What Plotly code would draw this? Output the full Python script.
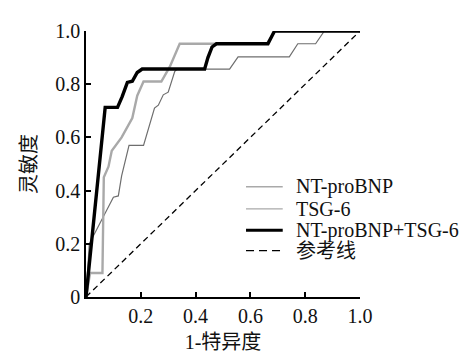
import plotly.graph_objects as go

# ---- data ----
nt_fpr = [0, 0.015, 0.06, 0.065, 0.082, 0.094, 0.13, 0.155, 0.169, 0.187, 0.21, 0.275, 0.306, 0.342, 0.66, 0.69, 1.0]
nt_tpr = [0, 0.09, 0.09, 0.45, 0.49, 0.55, 0.60, 0.648, 0.673, 0.757, 0.81, 0.81, 0.866, 0.952, 0.952, 1.0, 1.0]

tsg_fpr = [0, 0.012, 0.10, 0.118, 0.13, 0.157, 0.21, 0.225, 0.24, 0.25, 0.264, 0.282, 0.30, 0.311, 0.324, 0.333,
           0.524, 0.555, 0.742, 0.773, 0.838, 0.87, 1.0]
tsg_tpr = [0, 0.20, 0.375, 0.38, 0.455, 0.57, 0.57, 0.62, 0.673, 0.71, 0.721, 0.76, 0.77, 0.807, 0.848, 0.857,
           0.857, 0.903, 0.903, 0.952, 0.952, 1.0, 1.0]

comb_fpr = [0, 0.07, 0.115, 0.132, 0.151, 0.169, 0.187, 0.205, 0.433, 0.445, 0.46, 0.476, 0.664, 0.688, 1.0]
comb_tpr = [0, 0.713, 0.713, 0.753, 0.807, 0.811, 0.844, 0.857, 0.857, 0.90, 0.94, 0.952, 0.952, 1.0, 1.0]

ref_x = [0, 1]
ref_y = [0, 1]

names = ["NT-proBNP", "TSG-6", "NT-proBNP+TSG-6", "参考线"]
x_ticks = [0.2, 0.4, 0.6, 0.8, 1.0]
x_ticktext = ["0.2", "0.4", "0.6", "0.8", "1.0"]
y_ticks = [0, 0.2, 0.4, 0.6, 0.8, 1.0]
y_ticktext = ["0", "0.2", "0.4", "0.6", "0.8", "1.0"]

# ---- styles ----
C_NT, W_NT = "#a9a9a9", 2.4
C_TSG, W_TSG = "#6e6e6e", 1.2
C_COMB, W_COMB = "#000000", 3.4
C_REF, W_REF = "#000000", 1.3
DASH = "6px,4px"
FONT = "'Liberation Serif', 'Times New Roman', 'Noto Sans CJK SC', serif"

fig = go.Figure()
fig.add_trace(go.Scatter(x=ref_x, y=ref_y, mode="lines", name=names[3],
                         line=dict(color=C_REF, width=W_REF, dash=DASH), cliponaxis=False, showlegend=False))
fig.add_trace(go.Scatter(x=tsg_fpr, y=tsg_tpr, mode="lines", name=names[1],
                         line=dict(color=C_TSG, width=W_TSG), cliponaxis=False, showlegend=False))
fig.add_trace(go.Scatter(x=nt_fpr, y=nt_tpr, mode="lines", name=names[0],
                         line=dict(color=C_NT, width=W_NT), cliponaxis=False, showlegend=False))
fig.add_trace(go.Scatter(x=comb_fpr, y=comb_tpr, mode="lines", name=names[2],
                         line=dict(color=C_COMB, width=W_COMB), cliponaxis=False, showlegend=False))

# ---- custom legend (paper coords) ----
leg_rows = [0.4145, 0.331, 0.251, 0.1745]
leg_styles = [(C_NT, 1.6, "solid"), (C_NT, 1.2, "solid"), (C_COMB, 3, "solid"), (C_REF, 1.3, "dash")]
for yy, name, (col, w, d) in zip(leg_rows, names, leg_styles):
    fig.add_shape(type="line", xref="paper", yref="paper", x0=0.584, x1=0.718, y0=yy, y1=yy,
                  line=dict(color=col, width=w, dash="8px,5px" if d == "dash" else "solid"))
    fig.add_annotation(xref="paper", yref="paper", x=0.758, y=yy, text=name, showarrow=False,
                       xanchor="left", yanchor="middle", font=dict(family=FONT, size=20, color="#111"))

axis_common = dict(range=[0, 1], showline=True, linecolor="black", linewidth=1.5, ticks="inside",
                   ticklen=5, tickwidth=1.5, tickcolor="black", showgrid=False, zeroline=False,
                   tickfont=dict(family=FONT, size=20, color="#111"))

fig.update_layout(
    width=469, height=354, autosize=False,
    margin=dict(l=77.5, r=116.5, t=20, b=59),
    paper_bgcolor="white", plot_bgcolor="white",
    font=dict(family=FONT),
    xaxis=dict(**axis_common, tickvals=x_ticks, ticktext=x_ticktext,
               title=dict(text="1-特异度", font=dict(family=FONT, size=20, color="#111"), standoff=9)),
    yaxis=dict(**axis_common, tickvals=y_ticks, ticktext=y_ticktext,
               title=dict(text="灵敏度", font=dict(family=FONT, size=20, color="#111"), standoff=13)),
)

fig.write_html("out.html")
